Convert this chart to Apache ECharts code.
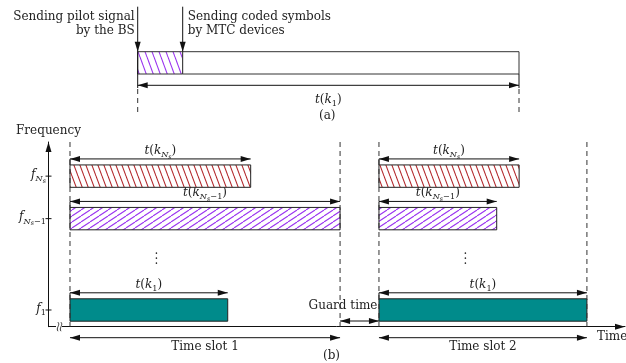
<!DOCTYPE html>
<html>
<head>
<meta charset="utf-8">
<script src="https://cdn.jsdelivr.net/npm/echarts@6/dist/echarts.min.js"></script>
<style>
html, body { margin: 0; padding: 0; background: #fff; }
#chart { width: 626px; height: 363px; }
</style>
</head>
<body>
<div id="chart"></div>
<script>
// ---------- data ----------
// (b) frequency levels on the vertical axis, bottom to top: f_1, f_{Ns-1}, f_{Ns}
const freqLevels = [0, 2.15, 3.15];
// label pieces: [text, italic, script level]  (0 = normal, 1 = subscript, 2 = sub-subscript)
const freqTickLabels = [
  [['f', 1, 0], ['1', 0, 1]],
  [['f', 1, 0], ['N', 1, 1], ['s', 1, 2], ['\u22121', 0, 1]],
  [['f', 1, 0], ['N', 1, 1], ['s', 1, 2]]
];
const durationLabels = [
  [['t', 1, 0], ['(', 0, 0], ['k', 1, 0], ['1', 0, 1], [')', 0, 0]],
  [['t', 1, 0], ['(', 0, 0], ['k', 1, 0], ['N', 1, 1], ['s', 1, 2], ['\u22121', 0, 1], [')', 0, 0]],
  [['t', 1, 0], ['(', 0, 0], ['k', 1, 0], ['N', 1, 1], ['s', 1, 2], [')', 0, 0]]
];
const slotNames = ['Time slot 1', 'Time slot 2'];
const slotStart = [0, 114.4];
const slotEnd = [100, 191.4];
// transmission time per frequency (f_1, f_{Ns-1}, f_{Ns}) in each slot
const slot1Durations = [58.4, 100, 66.9];
const slot2Durations = [77, 43.6, 51.9];
const guardLabel = 'Guard time';
const ellipsisTimes = [32, 146.4];
const ellipsisLevel = 1.22;

// (a) one frame: pilot from the BS, then coded symbols from the devices
const pilotDuration = 11.8;
const frameDuration = 100;
const pilotText = ['Sending pilot signal', 'by the BS'];
const codedText = ['Sending coded symbols', 'by MTC devices'];
const frameLabel = [['t', 1, 0], ['(', 0, 0], ['k', 1, 0], ['1', 0, 1], [')', 0, 0]];

// ---------- styling helpers ----------
const FONT = 'DejaVu Serif';
const INK = '#222';
const SIZE = 12;
const SIZES = [12, 8.2, 6.4];
const DROPS = [0, 2.9, 4.7];
const measure = document.createElement('canvas').getContext('2d');

function hatch(color, w, h, rising) {
  const c = document.createElement('canvas');
  c.width = w; c.height = h;
  const g = c.getContext('2d');
  g.fillStyle = '#fff';
  g.fillRect(0, 0, w, h);
  g.strokeStyle = color;
  g.lineWidth = 1.1;
  for (const off of [-w, 0, w]) {
    g.beginPath();
    if (rising) { g.moveTo(off, h); g.lineTo(off + w, 0); }
    else { g.moveTo(off, 0); g.lineTo(off + w, h); }
    g.stroke();
  }
  return { image: c, repeat: 'repeat' };
}
const RED_HATCH = hatch('#b3262a', 6, 16, false);
const PURPLE_HATCH = hatch('#9a33f0', 9, 6, true);
const PURPLE_STEEP = hatch('#9a33f0', 7, 19, false);
const TEAL = '#008b8b';
const barFills = [TEAL, PURPLE_HATCH, RED_HATCH];

function mathText(parts, x, baseY, align) {
  let w = 0;
  const pieces = [];
  for (const [t, it, lv] of parts) {
    const fs = SIZES[lv], st = it ? 'italic' : 'normal';
    measure.font = st + ' ' + fs + 'px "' + FONT + '"';
    const tw = measure.measureText(t).width;
    pieces.push({ t, fs, st, dx: w, lv });
    w += tw;
  }
  const left = align === 'center' ? x - w / 2 : align === 'right' ? x - w : x;
  return pieces.map(p => ({
    type: 'text',
    style: {
      text: p.t, x: left + p.dx, y: baseY + DROPS[p.lv] - 0.32 * p.fs,
      fontSize: p.fs, fontStyle: p.st, fontFamily: FONT, fill: INK,
      align: 'left', verticalAlign: 'middle'
    }
  }));
}
function txt(s, x, y, align, size) {
  return { type: 'text', style: { text: s, x, y, fontSize: size || SIZE, fontFamily: FONT, fill: INK, align: align || 'center', verticalAlign: 'middle' } };
}
function line(x1, y1, x2, y2, dashed) {
  return { type: 'line', shape: { x1, y1, x2, y2 }, style: { stroke: dashed ? '#333' : '#111', lineWidth: 1, lineDash: dashed ? [5, 4] : null } };
}
function head(x, y, dir) {
  const L = 10, W = 3;
  let pts;
  if (dir === 'l') pts = [[x, y], [x + L, y - W], [x + L, y + W]];
  else if (dir === 'r') pts = [[x, y], [x - L, y - W], [x - L, y + W]];
  else if (dir === 'u') pts = [[x, y], [x - W, y + L], [x + W, y + L]];
  else pts = [[x, y], [x - W, y - L], [x + W, y - L]];
  return { type: 'polygon', shape: { points: pts }, style: { fill: '#111' } };
}
function span(xa, xb, y) {
  return [line(xa, y, xb, y), head(xa, y, 'l'), head(xb, y, 'r')];
}

// axis extents of the (b) panel
const X_MIN = -7.96, X_MAX = 205.5;
const Y_MIN = -0.393, Y_MAX = 3.953;
const BAR_H = 22.4;

// bars of panel (b): [start, end, level, frequency index]
const barData = [];
[slot1Durations, slot2Durations].forEach((durs, s) => {
  durs.forEach((d, i) => barData.push([slotStart[s], slotStart[s] + d, freqLevels[i], i]));
});

function renderBar(params, api) {
  const i = api.value(3);
  const p0 = api.coord([api.value(0), api.value(2)]);
  const p1 = api.coord([api.value(1), api.value(2)]);
  const top = p0[1] - BAR_H / 2;
  const children = [{
    type: 'rect',
    shape: { x: p0[0], y: top, width: p1[0] - p0[0], height: BAR_H },
    style: { fill: barFills[i], stroke: '#222', lineWidth: 1 }
  }];
  children.push(line(p0[0], top - 6, p0[0], top));
  children.push(...span(p0[0], p1[0], top - 6));
  children.push(...mathText(durationLabels[i], (p0[0] + p1[0]) / 2, top - 10.5, 'center'));
  return { type: 'group', children };
}

function renderPanelB(params, api) {
  const c = [];
  const yTop = api.coord([0, Y_MAX])[1];
  const yAx = api.coord([0, Y_MIN])[1];
  const xAx = api.coord([X_MIN, 0])[0];
  const xEnd = api.coord([X_MAX, 0])[0];
  // slot boundaries
  [...slotStart, ...slotEnd].forEach(t => {
    const x = api.coord([t, 0])[0];
    c.push(line(x, yTop, x, yAx, true));
  });
  // axis arrowheads
  c.push(head(xAx, yTop, 'u'));
  c.push(head(xEnd, yAx, 'r'));
  // frequency ticks and labels
  freqLevels.forEach((lv, i) => {
    const y = api.coord([X_MIN, lv])[1];
    c.push(line(xAx - 3, y, xAx + 3, y));
    c.push(...mathText(freqTickLabels[i], xAx - 2.5, y + 2.5, 'right'));
  });
  // vertical ellipsis between f_1 and f_{Ns-1}
  ellipsisTimes.forEach(t => {
    const p = api.coord([t, ellipsisLevel]);
    [-5, 0, 5].forEach(d => c.push({ type: 'circle', shape: { cx: p[0], cy: p[1] + d, r: 0.8 }, style: { fill: INK } }));
  });
  // axis break mark
  const bx = xAx + 9.5;
  c.push({ type: 'rect', shape: { x: bx - 2, y: yAx - 1, width: 6, height: 2 }, style: { fill: '#fff' } });
  [0, 3].forEach(d => c.push({
    type: 'bezierCurve',
    shape: { x1: bx + d, y1: yAx - 4.5, x2: bx + d, y2: yAx + 4.5, cpx1: bx + d + 2.5, cpy1: yAx - 1.5, cpx2: bx + d - 2.5, cpy2: yAx + 1.5 },
    style: { stroke: INK, lineWidth: 0.9, fill: null }
  }));
  // guard time between the slots
  const g0 = api.coord([slotEnd[0], 0])[0], g1 = api.coord([slotStart[1], 0])[0];
  c.push(...span(g0, g1, yAx - 5.7));
  c.push(txt(guardLabel, g1 - 1.5, yAx - 21, 'right'));
  // slot durations under the time axis
  slotNames.forEach((name, s) => {
    const a = api.coord([slotStart[s], 0])[0], b = api.coord([slotEnd[s], 0])[0];
    c.push(...span(a, b, yAx + 11));
    c.push(txt(name, (a + b) / 2, yAx + 20));
  });
  c.push(txt('Time', xEnd - 28, yAx + 10.5, 'left'));
  return { type: 'group', children: c };
}

function renderFrame(params, api) {
  const a = api.coord([api.value(0), 1]);
  const b = api.coord([api.value(1), 0]);
  return {
    type: 'rect',
    shape: { x: a[0], y: a[1], width: b[0] - a[0], height: b[1] - a[1] },
    style: { fill: api.value(2) === 0 ? PURPLE_STEEP : '#fff', stroke: '#333', lineWidth: 1 }
  };
}

function renderPanelA(params, api) {
  const c = [];
  const s = api.coord([0, 1]), p = api.coord([pilotDuration, 1]);
  const e = api.coord([frameDuration, 0]);
  const top = s[1], bot = e[1];
  const arrowTop = top - 45;
  // arrows marking the start of the pilot and of the coded symbols
  c.push(line(s[0], arrowTop, s[0], bot + 14), head(s[0], top, 'd'));
  c.push(line(p[0], arrowTop, p[0], top), head(p[0], top, 'd'));
  c.push(txt(pilotText[0], s[0] - 3, top - 34.5, 'right'));
  c.push(txt(pilotText[1], s[0] - 3, top - 20.5, 'right'));
  c.push(txt(codedText[0], p[0] + 5, top - 34.5, 'left'));
  c.push(txt(codedText[1], p[0] + 5, top - 20.5, 'left'));
  // frame length
  c.push(line(e[0], bot, e[0], bot + 14));
  c.push(line(s[0], bot + 15, s[0], bot + 41, true));
  c.push(line(e[0], bot + 15, e[0], bot + 38, true));
  c.push(...span(s[0], e[0], bot + 11.3));
  c.push(...mathText(frameLabel, (s[0] + e[0]) / 2, bot + 29.5, 'center'));
  return { type: 'group', children: c };
}

const axisLineStyle = { color: '#111', width: 1 };
const option = {
  animation: false,
  backgroundColor: '#fff',
  grid: [
    { left: 48.5, right: 1, top: 142, bottom: 36.3 },
    { left: 137.7, right: 107, top: 51.7, bottom: 289 }
  ],
  xAxis: [
    { gridIndex: 0, type: 'value', min: X_MIN, max: X_MAX,
      axisLine: { show: true, onZero: false, lineStyle: axisLineStyle },
      axisTick: { show: false }, axisLabel: { show: false }, splitLine: { show: false } },
    { gridIndex: 1, type: 'value', min: 0, max: frameDuration, show: false }
  ],
  yAxis: [
    { gridIndex: 0, type: 'value', min: Y_MIN, max: Y_MAX,
      name: 'Frequency', nameLocation: 'end', nameGap: 5,
      nameTextStyle: { fontFamily: FONT, fontSize: SIZE, color: INK, align: 'center' },
      axisLine: { show: true, onZero: false, lineStyle: axisLineStyle },
      axisTick: { show: false }, axisLabel: { show: false }, splitLine: { show: false } },
    { gridIndex: 1, type: 'value', min: 0, max: 1, show: false }
  ],
  graphic: [
    { type: 'text', left: 319, top: 110, style: { text: '(a)', fontFamily: FONT, fontSize: SIZE, fill: INK } },
    { type: 'text', left: 323, top: 350, style: { text: '(b)', fontFamily: FONT, fontSize: SIZE, fill: INK } }
  ],
  series: [
    { type: 'custom', xAxisIndex: 0, yAxisIndex: 0, data: barData, encode: { x: [0, 1], y: 2 }, renderItem: renderBar, silent: true },
    { type: 'custom', xAxisIndex: 0, yAxisIndex: 0, data: [[0, 0]], renderItem: renderPanelB, silent: true },
    { type: 'custom', xAxisIndex: 1, yAxisIndex: 1, encode: { x: [0, 1] },
      data: [[0, pilotDuration, 0], [pilotDuration, frameDuration, 1]], renderItem: renderFrame, silent: true },
    { type: 'custom', xAxisIndex: 1, yAxisIndex: 1, data: [[0, 0]], renderItem: renderPanelA, silent: true }
  ]
};
const chart = echarts.init(document.getElementById('chart'));
chart.setOption(option);
</script>
</body>
</html>
